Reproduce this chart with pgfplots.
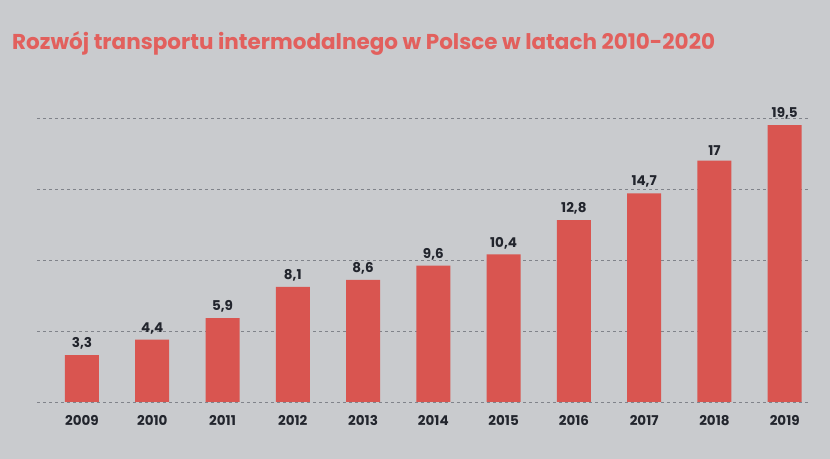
\documentclass[border=0pt]{standalone}
\usepackage{pgfplots}
\pgfplotsset{compat=1.18}
\usepackage{fontspec}
\setmainfont{Poppins}
\definecolor{bg}{HTML}{C9CBCE}
\definecolor{barred}{HTML}{D95550}
\definecolor{titlered}{HTML}{E2605D}
\definecolor{txt}{HTML}{22252D}
\definecolor{gridc}{HTML}{80838A}
\begin{document}
\begin{tikzpicture}
\useasboundingbox (0,0) rectangle (830bp,459bp);
\fill[bg] (0,0) rectangle (830bp,459bp);
\node[anchor=base west, inner sep=0, text=titlered, font=\fontsize{21.5bp}{26bp}\selectfont\bfseries] at (12bp,409bp) {Rozwój transportu intermodalnego w Polsce w latach 2010-2020};
\begin{axis}[
  at={(37bp,57bp)}, anchor=south west,
  scale only axis, width=773bp, height=284bp,
  xmin=-0.64, xmax=10.36, ymin=0, ymax=20,
  axis line style={draw=none},
  ytick={0,5,10,15,20}, yticklabels={},
  ymajorgrids, grid style={gridc, line width=0.9bp, dash pattern=on 3bp off 3bp},
  major tick length=0,
  xtick={0,...,10},
  xticklabels={2009,2010,2011,2012,2013,2014,2015,2016,2017,2018,2019},
  xticklabel style={font=\fontsize{13.5bp}{16bp}\selectfont\bfseries, text=txt, yshift=-10bp},
  /pgf/number format/assume math mode=true,
  /pgf/number format/use comma,
  nodes near coords,
  nodes near coords style={font=\fontsize{13.5bp}{16bp}\selectfont\bfseries, text=txt, anchor=south, yshift=2bp},
]
\addplot[ybar, bar width=34bp, fill=barred, draw=none] coordinates {
(0,3.3) (1,4.4) (2,5.9) (3,8.1) (4,8.6) (5,9.6) (6,10.4) (7,12.8) (8,14.7) (9,17) (10,19.5)
};
\end{axis}
\end{tikzpicture}
\end{document}
